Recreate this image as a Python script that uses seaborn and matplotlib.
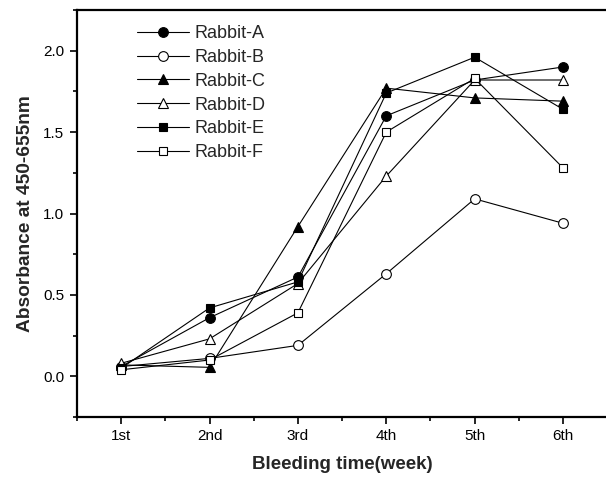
import matplotlib
matplotlib.use("Agg")
import matplotlib.pyplot as plt
import seaborn as sns
import pandas as pd
from matplotlib.ticker import MultipleLocator, FixedLocator

sns.set_style("ticks")
plt.rcParams['font.family'] = ['Liberation Sans', 'DejaVu Sans']

weeks = ["1st", "2nd", "3rd", "4th", "5th", "6th"]
week_pos = [1, 2, 3, 4, 5, 6]
rabbit_a = [0.06, 0.36, 0.61, 1.60, 1.82, 1.90]
rabbit_b = [0.06, 0.11, 0.19, 0.63, 1.09, 0.94]
rabbit_c = [0.07, 0.055, 0.92, 1.77, 1.71, 1.69]
rabbit_d = [0.08, 0.23, 0.57, 1.23, 1.82, 1.82]
rabbit_e = [0.05, 0.42, 0.58, 1.74, 1.96, 1.64]
rabbit_f = [0.04, 0.10, 0.39, 1.50, 1.83, 1.28]
names = ["Rabbit-A", "Rabbit-B", "Rabbit-C", "Rabbit-D", "Rabbit-E", "Rabbit-F"]
series = [rabbit_a, rabbit_b, rabbit_c, rabbit_d, rabbit_e, rabbit_f]
markers = ["o", "o", "^", "^", "s", "s"]
filled = [True, False, True, False, True, False]

fig = plt.figure(figsize=(6.06, 4.78), dpi=100)
ax = fig.add_axes([77/606, 61/478, 1 - 77/606 + 0.002, (417-10)/478])

for name, vals, m, f in zip(names, series, markers, filled):
    df = pd.DataFrame({"week": week_pos, "abs": vals})
    sns.lineplot(data=df, x="week", y="abs", ax=ax, color="black", lw=0.8,
                 marker=m, markersize=7 if m != "s" else 6,
                 markerfacecolor="black" if f else "white",
                 markeredgecolor="black", markeredgewidth=0.8,
                 label=name)

ax.set_xlim(0.5, 6.5)
ax.set_ylim(-0.25, 2.25)
ax.xaxis.set_major_locator(FixedLocator(week_pos))
ax.set_xticklabels(weeks)
ax.xaxis.set_minor_locator(FixedLocator([0.5, 1.5, 2.5, 3.5, 4.5, 5.5, 6.5]))
ax.yaxis.set_major_locator(FixedLocator([0.0, 0.5, 1.0, 1.5, 2.0]))
ax.yaxis.set_minor_locator(MultipleLocator(0.25))
ax.tick_params(axis="both", which="major", direction="out", length=5, width=1.2,
               labelsize=11, color="black", labelcolor="black", pad=4)
ax.tick_params(axis="both", which="minor", direction="out", length=3, width=1.2, color="black")

for s in ["left", "bottom", "top"]:
    ax.spines[s].set_visible(True)
    ax.spines[s].set_linewidth(1.6)
    ax.spines[s].set_color("black")
ax.spines["right"].set_visible(False)

ax.set_xlabel("Bleeding time(week)", fontsize=13.5, fontweight="bold", labelpad=9)
ax.set_ylabel("Absorbance at 450-655nm", fontsize=13.8, fontweight="bold", labelpad=7)

leg = ax.legend(loc="upper left", bbox_to_anchor=(137/606, 1 - 25/478),
                bbox_transform=fig.transFigure, frameon=False, fontsize=13,
                handlelength=2.9, handletextpad=0.28, labelspacing=0.38,
                borderpad=0, borderaxespad=0)

fig.savefig("out.png", dpi=100)
